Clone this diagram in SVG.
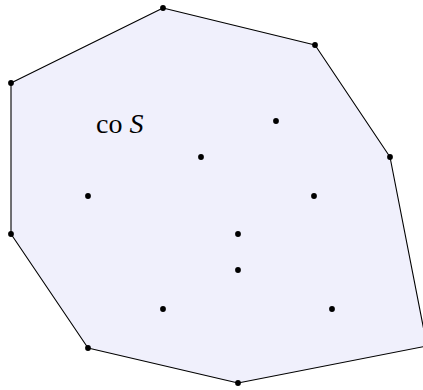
<svg xmlns="http://www.w3.org/2000/svg" width="423" height="390" viewBox="0 0 423 390">
<style>
.hull{fill:#f0f0fc;stroke:#000;stroke-width:1.1;stroke-linejoin:round}
.pt{fill:#000}
.lbl{font-family:"Liberation Serif","DejaVu Serif",serif;font-size:28px;fill:#000}
</style>
<rect width="423" height="390" fill="#fff"/>
<g id="connectors">
<polygon class="hull" points="163,8 315,45 390,157 427,346 238,383 88,348 11,234 11,83"/>
</g>
<g id="points">
<circle class="pt" cx="163" cy="8" r="2.9"/>
<circle class="pt" cx="315" cy="45" r="2.9"/>
<circle class="pt" cx="390" cy="157" r="2.9"/>
<circle class="pt" cx="238" cy="383" r="2.9"/>
<circle class="pt" cx="88" cy="348" r="2.9"/>
<circle class="pt" cx="11" cy="234" r="2.9"/>
<circle class="pt" cx="11" cy="83" r="2.9"/>
<circle class="pt" cx="276" cy="121" r="2.9"/>
<circle class="pt" cx="201" cy="157" r="2.9"/>
<circle class="pt" cx="88" cy="196" r="2.9"/>
<circle class="pt" cx="314" cy="196" r="2.9"/>
<circle class="pt" cx="238" cy="234" r="2.9"/>
<circle class="pt" cx="238" cy="270" r="2.9"/>
<circle class="pt" cx="163" cy="309" r="2.9"/>
<circle class="pt" cx="332" cy="309" r="2.9"/>
</g>
<g id="label">
<text class="lbl" x="96" y="133">co<tspan dx="7" font-style="italic">S</tspan></text>
</g>
</svg>
